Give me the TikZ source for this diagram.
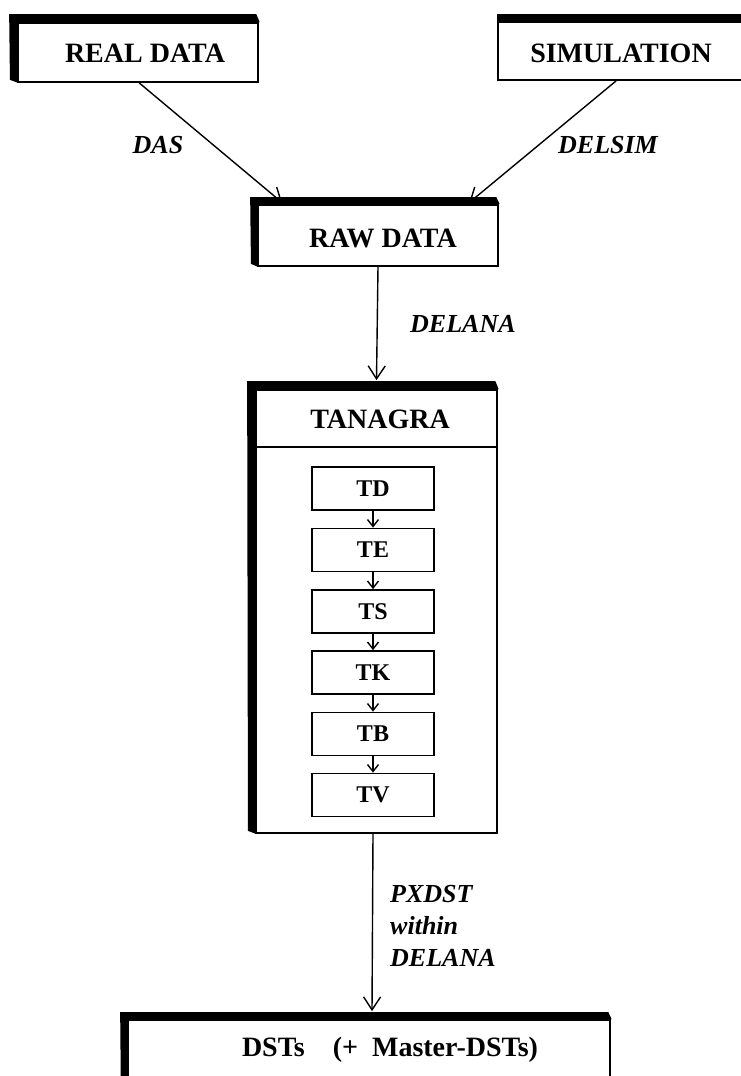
\documentclass[tikz,border=0pt]{standalone}
\usepackage{fontspec}
\setmainfont{Liberation Serif}
\usetikzlibrary{arrows.meta,calc}
\newcommand{\boxbar}[2]{%
  \fill ($(#1.south west)+(0.8,0)$) -- ++(-#2,-3) -- ($(#1.north west)+(-#2,-#2)$)
    -- ($(#1.north east)+(-2.5,-#2)$) -- ($(#1.north east)+(0.8,0)$)
    -- ($(#1.north west)+(0.8,0)$) -- cycle;}
\begin{document}
\begin{tikzpicture}[x=1pt,y=-1pt,
  box/.style={draw, line width=1.7pt, fill=white, inner sep=0pt},
  txt/.style={font=\fontsize{28}{32}\selectfont\bfseries, inner sep=0pt},
  lbl/.style={font=\fontsize{26}{32}\selectfont\bfseries\itshape, inner sep=0pt},
  sub/.style={box, minimum width=122pt, minimum height=43pt, font=\fontsize{24}{27}\selectfont\bfseries},
  arr/.style={line width=1.4pt, -{Straight Barb[length=13pt,width=17pt,line width=1.4pt]}},
  sarr/.style={line width=1.4pt, -{Straight Barb[length=7pt,width=11pt,line width=1.4pt]}},
]
\useasboundingbox (0,0) rectangle (740,1076);

% top boxes
\node[box, minimum width=240pt, minimum height=59pt] (real) at (138,52.5) {};
\boxbar{real}{8}
\node[txt] (realt) at (145,53) {REAL DATA};

\node[box, minimum width=262pt, minimum height=58pt] (sim) at (629,51) {};
\fill (sim.north west) ++(0,-7) rectangle (sim.north east);
\node[txt] (simt) at (621,53) {SIMULATION};

% raw data
\node[box, minimum width=240pt, minimum height=61pt] (raw) at (378,235.5) {};
\boxbar{raw}{7}
\node[txt] (rawt) at (383,238) {RAW DATA};

% tanagra
\node[box, minimum width=241pt, minimum height=443pt] (tan) at (376.5,611.5) {};
\boxbar{tan}{8}
\draw[line width=1.7pt] ($(tan.north west)+(0,58)$) coordinate (dl) -- ($(tan.north east)+(0,58)$) coordinate (dr);
\node[txt] (tant) at (380,419) {TANAGRA};

\node[sub] (td) at (373,488.5) {TD};
\node[sub] (te) at (373,550) {TE};
\node[sub] (ts) at (373,611.5) {TS};
\node[sub] (tk) at (373,672.5) {TK};
\node[sub] (tb) at (373,734) {TB};
\node[sub] (tv) at (373,795) {TV};
\foreach \a/\b in {td/te,te/ts,ts/tk,tk/tb,tb/tv}
  \draw[sarr] (\a.south) -- (\b.north);

% DSTs
\node[box, minimum width=482pt, minimum height=80pt] (dst) at (369,1060) {};
\boxbar{dst}{7}
\node[txt] (dstt) at (390,1050) {DSTs\quad(+\ \ Master-DSTs)};

% connectors
\coordinate (r1) at ($(real.south west)+(122,0)$);
\coordinate (r2) at ($(raw.north west)+(25,-1.5)$);
\coordinate (s1) at ($(sim.south west)+(119,0)$);
\coordinate (s2) at ($(raw.north west)+(212,-1.5)$);
\draw[arr] (r1) -- (r2);
\draw[arr] (s1) -- (s2);
\draw[arr] (raw.south) -- ($(tan.north)+(0,-9)$);
\draw[arr] ($(tan.south)+(-3.5,0)$) -- ($(dst.north)+(3,-8)$);

% labels
\node[lbl] (das) at (158,145) {DAS};
\node[lbl] (delsim) at (608,145) {DELSIM};
\node[lbl, anchor=west] (delana) at (410,324) {DELANA};
\node[lbl, anchor=north west, align=left] (pxdst) at (390,885) {PXDST\\within\\DELANA};
\end{tikzpicture}
\end{document}
